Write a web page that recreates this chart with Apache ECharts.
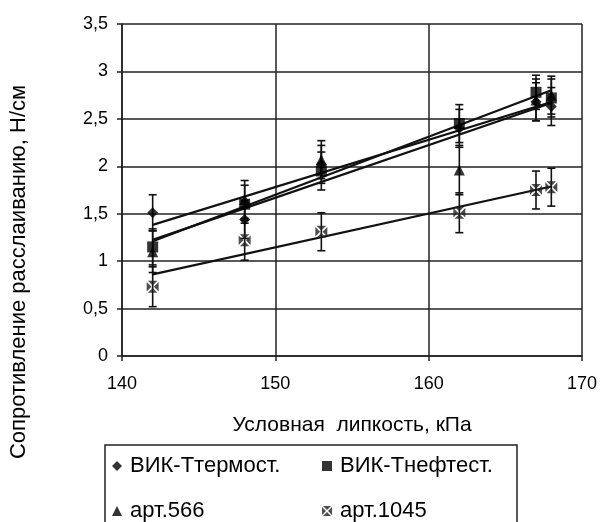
<!DOCTYPE html>
<html>
<head>
<meta charset="utf-8">
<script src="https://cdn.jsdelivr.net/npm/echarts@6/dist/echarts.min.js"></script>
<style>
  html, body { margin: 0; padding: 0; background: #fff; }
  #chart { width: 604px; height: 522px; }
</style>
</head>
<body>
<div id="chart"></div>
<script>
// Условная липкость, кПа
const tack = [142, 148, 153, 162, 167, 168];

// Сопротивление расслаиванию, Н/см
const vikTermost = [1.51, 1.44, 2.02, 2.40, 2.68, 2.63];
const vikNeftest = [1.15, 1.60, 1.95, 2.45, 2.78, 2.72];
const art566 = [1.10, 1.65, 2.07, 1.96, 2.70, 2.75];
const art1045 = [0.73, 1.22, 1.31, 1.51, 1.75, 1.78];

// half-widths of the error bars
const errVikTermost = [0.19, 0.2, 0.2, 0.2, 0.2, 0.2];
const errVikNeftest = [0.19, 0.2, 0.2, 0.2, 0.18, 0.2];
const errArt566 = [0.22, 0.2, 0.2, 0.26, 0.22, 0.2];
const errArt1045 = [0.21, 0.21, 0.2, 0.21, 0.2, 0.2];

const names = ['ВИК-Ттермост.', 'ВИК-Тнефтест.', 'арт.566', 'арт.1045'];
const yTicks = [0, 0.5, 1, 1.5, 2, 2.5, 3, 3.5];
const xTicks = [140, 150, 160, 170];

const FONT = '"Liberation Sans", Arial, sans-serif';

// square with an X cut through it
const crossBox = 'path://M1,0 L9,0 L5,4 Z M10,1 L10,9 L6,5 Z M9,10 L1,10 L5,6 Z M0,9 L0,1 L4,5 Z';

const sets = [
  { name: names[0], y: vikTermost, err: errVikTermost, symbol: 'diamond', size: 11 },
  { name: names[1], y: vikNeftest, err: errVikNeftest, symbol: 'rect', size: 11 },
  { name: names[2], y: art566, err: errArt566, symbol: 'triangle', size: 11 },
  { name: names[3], y: art1045, err: errArt1045, symbol: crossBox, size: 12 }
];

// least-squares linear trend over a series
function trend(xs, ys) {
  const n = xs.length;
  const mx = xs.reduce((a, b) => a + b, 0) / n;
  const my = ys.reduce((a, b) => a + b, 0) / n;
  let sxx = 0, sxy = 0;
  for (let i = 0; i < n; i++) {
    sxx += (xs[i] - mx) * (xs[i] - mx);
    sxy += (xs[i] - mx) * (ys[i] - my);
  }
  const k = sxy / sxx, b = my - k * mx;
  const x0 = Math.min(...xs), x1 = Math.max(...xs);
  return [[x0, k * x0 + b], [x1, k * x1 + b]];
}

function errorBars(params, api) {
  const x = api.value(0);
  const lo = api.coord([x, api.value(1)]);
  const hi = api.coord([x, api.value(2)]);
  const w = 4;
  const style = { stroke: '#111', lineWidth: 1.6 };
  return {
    type: 'group',
    children: [
      { type: 'line', shape: { x1: lo[0], y1: lo[1], x2: hi[0], y2: hi[1] }, style },
      { type: 'line', shape: { x1: hi[0] - w, y1: hi[1], x2: hi[0] + w, y2: hi[1] }, style },
      { type: 'line', shape: { x1: lo[0] - w, y1: lo[1], x2: lo[0] + w, y2: lo[1] }, style }
    ]
  };
}

const series = [];
sets.forEach(s => {
  series.push({
    type: 'custom',
    name: s.name + ' err',
    renderItem: errorBars,
    data: tack.map((x, i) => [x, s.y[i] - s.err[i], s.y[i] + s.err[i]]),
    z: 2,
    silent: true
  });
});
sets.forEach(s => {
  series.push({
    type: 'line',
    name: s.name + ' trend',
    data: trend(tack, s.y),
    symbol: 'none',
    lineStyle: { color: '#111', width: 2.2 },
    z: 3,
    silent: true
  });
});
sets.forEach(s => {
  series.push({
    type: 'scatter',
    name: s.name,
    data: tack.map((x, i) => [x, s.y[i]]),
    symbol: s.symbol,
    symbolSize: s.size,
    itemStyle: { color: s.symbol === crossBox ? '#222' : '#000' },
    z: 4
  });
});

// one legend entry per position, laid out as a 2 x 2 block
const legendCells = [
  { name: names[0], left: 112, top: 455 },
  { name: names[1], left: 322, top: 455 },
  { name: names[2], left: 112, top: 500 },
  { name: names[3], left: 322, top: 500 }
];
const legends = legendCells.map(c => ({
  data: [c.name],
  left: c.left,
  top: c.top,
  padding: 0,
  itemWidth: 10,
  itemHeight: 10,
  itemGap: 0,
  selectedMode: false,
  textStyle: { fontFamily: FONT, fontSize: 22, color: '#000', padding: [0, 0, 0, 3] }
}));

const option = {
  backgroundColor: '#fff',
  animation: false,
  textStyle: { fontFamily: FONT },
  grid: { left: 122, right: 22, top: 24, bottom: 166 },
  xAxis: {
    type: 'value',
    min: xTicks[0],
    max: xTicks[xTicks.length - 1],
    interval: 10,
    name: 'Условная  липкость, кПа',
    nameLocation: 'middle',
    nameGap: 59,
    nameTextStyle: { fontFamily: FONT, fontSize: 21, color: '#000' },
    axisLine: { lineStyle: { color: '#222', width: 1.5 } },
    axisTick: { show: true, length: 5, lineStyle: { color: '#222', width: 1.5 } },
    axisLabel: { fontFamily: FONT, fontSize: 18, color: '#000', margin: 19 },
    splitLine: { show: true, lineStyle: { color: '#222', width: 1.5 } }
  },
  yAxis: {
    type: 'value',
    min: yTicks[0],
    max: yTicks[yTicks.length - 1],
    interval: 0.5,
    axisLine: { show: true, lineStyle: { color: '#222', width: 1.5 } },
    axisTick: { show: true, length: 5, lineStyle: { color: '#222', width: 1.5 } },
    axisLabel: {
      fontFamily: FONT, fontSize: 18, color: '#000', margin: 14,
      formatter: v => String(v).replace('.', ',')
    },
    splitLine: { show: true, lineStyle: { color: '#222', width: 1.5 } }
  },
  legend: legends,
  graphic: [
    {
      type: 'rect',
      shape: { x: 105, y: 445, width: 412, height: 100 },
      style: { fill: 'none', stroke: '#222', lineWidth: 1.5 },
      z: -1
    },
    {
      type: 'text',
      x: 19,
      y: 272,
      rotation: Math.PI / 2,
      style: {
        text: 'Сопротивление расслаиванию, Н/см',
        fontFamily: FONT,
        fontSize: 22,
        fill: '#000',
        align: 'center',
        verticalAlign: 'middle'
      }
    }
  ],
  series
};

const chart = echarts.init(document.getElementById('chart'), null, { renderer: 'canvas' });
chart.setOption(option);
</script>
</body>
</html>
